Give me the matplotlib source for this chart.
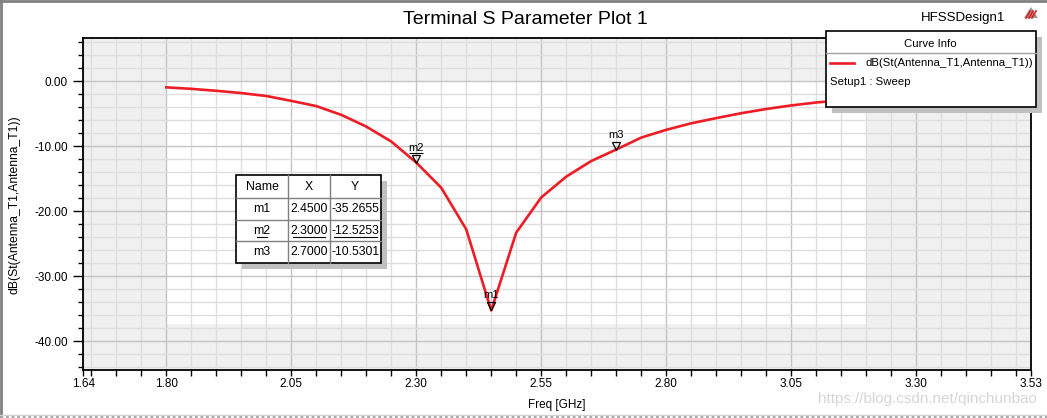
import matplotlib
matplotlib.use('Agg')
import matplotlib.pyplot as plt
from matplotlib.patches import Rectangle, Polygon
from matplotlib.transforms import offset_copy
import numpy as np

plt.rcParams['font.family'] = ['Liberation Sans', 'DejaVu Sans']

# S11 sweep
freq = [1.80, 1.85, 1.90, 1.95, 2.00, 2.05, 2.10, 2.15, 2.20, 2.25,
        2.30, 2.35, 2.40, 2.45, 2.50, 2.55, 2.60, 2.65, 2.70, 2.75,
        2.80, 2.85, 2.90, 2.95, 3.00, 3.05, 3.10, 3.15, 3.20]
s11_db = [-0.97, -1.20, -1.50, -1.85, -2.30, -3.05, -3.85, -5.20, -7.00, -9.30,
          -12.53, -16.40, -22.80, -35.27, -23.30, -17.90, -14.70, -12.30, -10.53, -8.70,
          -7.50, -6.50, -5.70, -4.95, -4.30, -3.75, -3.30, -2.95, -2.65]

marker_names = ['m1', 'm2', 'm3']
marker_x = [2.45, 2.30, 2.70]
marker_y = [-35.2655, -12.5253, -10.5301]

xtick_pos = [1.634, 1.80, 2.05, 2.30, 2.55, 2.80, 3.05, 3.30, 3.53]
xtick_labels = ['1.64', '1.80', '2.05', '2.30', '2.55', '2.80', '3.05', '3.30', '3.53']
ytick_pos = [0, -10, -20, -30, -40]
ytick_labels = ['0.00', '-10.00', '-20.00', '-30.00', '-40.00']

W, H = 1047, 418
fig = plt.figure(figsize=(W / 100, H / 100), dpi=100)

# main axes, placed by pixel box
left, right, top, bottom = 83.4, 1031, 38.3, 370.4
ax = fig.add_axes([left / W, 1 - bottom / H, (right - left) / W, (bottom - top) / H])
ax.set_facecolor('#f0f0f0')
ax.set_xlim(1.634, 3.53)
ax.set_ylim(-44.48, 6.57)
ax.add_patch(Rectangle((1.80, -37.3), 1.40, 37.3, facecolor='white', edgecolor='none', zorder=0.2))

ax.set_xticks(xtick_pos)
ax.set_xticklabels(xtick_labels)
ax.set_xticks(np.arange(1.65, 3.52, 0.05), minor=True)
ax.set_yticks(ytick_pos)
ax.set_yticklabels(ytick_labels)
ax.set_yticks(np.arange(-44, 7, 2), minor=True)
ax.set_axisbelow(True)
ax.grid(which='major', color='#c4c4c4', linewidth=1.0)
ax.grid(which='minor', color='#dedede', linewidth=1.0)
ax.tick_params(axis='x', which='both', direction='out', length=4, width=1, labelsize=8.5, pad=1.5)
ax.tick_params(axis='y', which='major', direction='out', length=7, width=1, labelsize=8.5, pad=4)
ax.tick_params(axis='y', which='minor', direction='out', length=3.5, width=1)
for sp in ax.spines.values():
    sp.set_color('black')
    sp.set_linewidth(1.3)

ax.plot(freq, s11_db, color='#ee1c25', linewidth=1.9, zorder=3)

ax.set_xlabel('Freq [GHz]', fontsize=8.5)
ax.xaxis.set_label_coords(0.5, -0.085)
ax.set_ylabel('dB(St(Antenna_T1,Antenna_T1))', fontsize=8.7)
ax.yaxis.set_label_coords(-0.066, 0.5)

# marker triangles (tip on the data point) and labels
tri_trans = offset_copy(ax.transData, fig=fig, x=0, y=4, units='dots')
ul_trans = offset_copy(ax.transData, fig=fig, x=0, y=10, units='dots')
for name, mx, my in zip(marker_names, marker_x, marker_y):
    ax.plot([mx], [my], marker='v', markersize=6, markerfacecolor='none',
            markeredgecolor='black', markeredgewidth=0.9, transform=tri_trans, zorder=4)
    ax.annotate(name, (mx, my), xytext=(0, 10), textcoords='offset pixels',
                ha='center', va='bottom', fontsize=8, zorder=4)
    if name == 'm2':
        ax.plot([mx], [my], marker='_', markersize=10.5, markeredgewidth=0.8,
                color='black', transform=ul_trans, zorder=4)

# overlay in pixel coordinates for title, boxes and frame
ov = fig.add_axes([0, 0, 1, 1], zorder=2)
ov.set_xlim(0, W)
ov.set_ylim(H, 0)
ov.axis('off')
ov.patch.set_alpha(0)

ov.text(525, 20, 'Terminal S Parameter Plot 1', fontsize=14, ha='center', va='center')
ov.text(963, 18, 'HFSSDesign1', fontsize=9.5, ha='center', va='center')
ov.add_patch(Polygon([[1024, 18], [1031, 7], [1038, 18]], closed=True,
                     facecolor='#9a9a9a', edgecolor='none'))
for k in range(3):
    ov.plot([1026 + 3 * k, 1030 + 3 * k], [18, 11], color='#e02020', linewidth=1.2)

# frame around the window
ov.plot([1, 1], [0, H], color='#808080', linewidth=2)
ov.plot([0, W], [1, 1], color='#808080', linewidth=2)
ov.plot([0, W], [415, 415], color='#d0d0d0', linewidth=1)
ov.plot([0, W], [417, 417], color='#a8a8a8', linewidth=2, linestyle=(0, (1, 1)))

ov.text(1037, 399, 'https://blog.csdn.net/qinchunbao', fontsize=11, color='#d6d6d6',
        ha='right', va='center')

# marker table
tl, tt, tr, tb = 235.7, 175.3, 380.7, 263.0
ov.add_patch(Rectangle((tl + 6, tt + 6), tr - tl, tb - tt, facecolor='#c0c0c0', edgecolor='none'))
ov.add_patch(Rectangle((tl, tt), tr - tl, tb - tt, facecolor='white', edgecolor='black', linewidth=1.2))
cols = [tl, 288.3, 329.7, tr]
rows = [tt, 197.7, 219.7, 241.3, tb]
for cx in cols[1:-1]:
    ov.plot([cx, cx], [tt, tb], color='#808080', linewidth=1)
for ry in rows[1:-1]:
    ov.plot([tl, tr], [ry, ry], color='#808080', linewidth=1)
col_c = [(cols[i] + cols[i + 1]) / 2 for i in range(3)]
row_c = [(rows[i] + rows[i + 1]) / 2 for i in range(4)]
for txt, cx in zip(['Name', 'X', 'Y'], col_c):
    ov.text(cx, row_c[0], txt, fontsize=8.8, ha='center', va='center')
for i, (name, mx, my) in enumerate(zip(marker_names, marker_x, marker_y)):
    cells = [name, f'{mx:.4f}', f'{my:.4f}']
    for txt, cx in zip(cells, col_c):
        ov.text(cx, row_c[i + 1], txt, fontsize=8.8, ha='center', va='center')
        if name == 'm2':
            half = len(txt) * 2.7
            ov.plot([cx - half, cx + half], [row_c[i + 1] + 6.5, row_c[i + 1] + 6.5],
                    color='black', linewidth=0.8)

# curve info box
ll, lt, lr, lb = 825.7, 31.3, 1035.7, 107.0
ov.add_patch(Rectangle((ll + 6, lt + 6), lr - ll, lb - lt, facecolor='#c0c0c0', edgecolor='none'))
ov.add_patch(Rectangle((ll, lt), lr - ll, lb - lt, facecolor='white', edgecolor='black', linewidth=1.2))
ov.text((ll + lr) / 2, 44, 'Curve Info', fontsize=8.2, ha='center', va='center')
ov.plot([ll, lr], [53.3, 53.3], color='#a0a0a0', linewidth=1)
ov.plot([830, 854], [63.3, 63.3], color='#ee1c25', linewidth=1.9)
ov.text(865, 63.3, 'dB(St(Antenna_T1,Antenna_T1))', fontsize=8.2, ha='left', va='center')
ov.text(830, 82, 'Setup1 : Sweep', fontsize=8.2, ha='left', va='center')

fig.savefig('out.png', dpi=100)
